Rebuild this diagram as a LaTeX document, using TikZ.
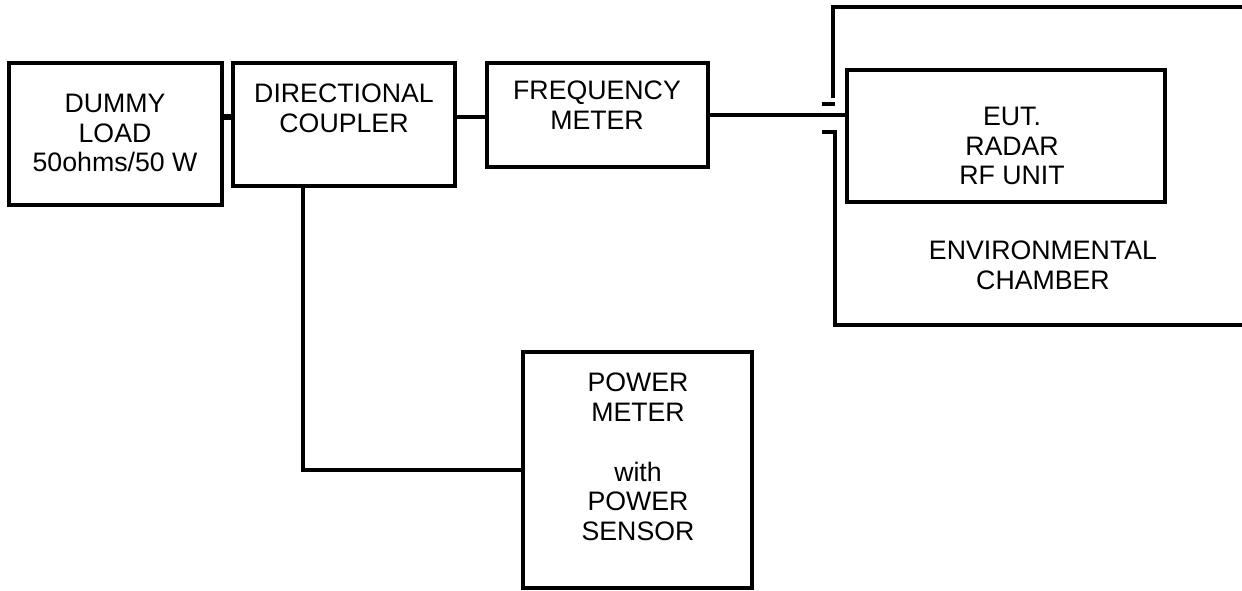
\documentclass[tikz,border=0pt]{standalone}
\usepackage{fontspec}
\setmainfont{Liberation Sans}
\usetikzlibrary{positioning,calc}
\tikzset{
  unit/.style={draw=black,line width=1.8pt,minimum width=#1},
  unit/.default=4cm,
  caption/.style={align=center,font=\fontsize{15.2}{17}\selectfont,inner sep=0pt},
  wire/.style={draw=black,line width=2pt,line cap=rect},
  wall/.style={draw=black,line width=2pt}
}

\begin{document}
\begin{tikzpicture}[x=0.02cm,y=-0.02cm]
  \useasboundingbox (0,0) rectangle (1242,591);
  % boxes
  \node[unit=4.26cm,minimum height=2.84cm] (dummy) at (115.5,134) {};
  \node[unit=4.44cm,minimum height=2.46cm] (coupler) at (344,124.5) {};
  \node[unit=4.42cm,minimum height=2.08cm] (freq) at (597.5,115) {};
  \node[unit=6.36cm,minimum height=2.64cm] (eut) at (1006,136) {};
  \node[unit=4.58cm,minimum height=4.72cm] (power) at (637.5,470) {};
  % texts
  \node[caption] (dummytxt) at (115,133) {DUMMY\\LOAD\\50ohms/50 W};
  \node[caption] (couplertxt) at (344,108) {DIRECTIONAL\\COUPLER};
  \node[caption] (freqtxt) at (597,105) {FREQUENCY\\METER};
  \node[caption] (euttxt) at (1012,146) {EUT.\\RADAR\\RF UNIT};
  \node[caption] (chambertxt) at (1043,265) {ENVIRONMENTAL\\CHAMBER};
  \node[caption] (powertxt) at (638,457) {POWER\\METER\\[17pt]with\\POWER\\SENSOR};
  % environmental chamber wall
  \coordinate (topright) at (1242,7);
  \coordinate (botright) at (1242,325);
  \draw[wall] (topright) -- (833,7) -- (833,98);
  \draw[wall] (822,104) -- (835,104);
  \draw[wall] (822,132) -- (835,132) -- (835,325) -- (botright);
  % connections
  \coordinate (cplin) at ($(coupler.west)+(0,-7.5)$);
  \coordinate (cplout) at ($(coupler.east)+(0,-7.5)$);
  \coordinate (cpltap) at ($(coupler.south)+(-41,0)$);
  \draw[wire,line width=3pt] (cplin) -- (cplin -| dummy.east);
  \draw[wire] (cplout) -- (cplout -| freq.west);
  \draw[wire] (freq.east) -- (freq.east -| eut.west);
  \draw[wire] (cpltap) |- (power.west);
\end{tikzpicture}
\end{document}
